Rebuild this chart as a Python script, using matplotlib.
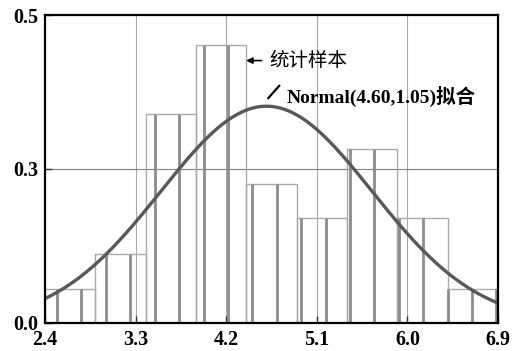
import numpy as np
import matplotlib
matplotlib.use('Agg')
import matplotlib.pyplot as plt

# histogram bins and density heights
BIN_EDGES = [2.4, 2.9, 3.4, 3.9, 4.4, 4.9, 5.4, 5.9, 6.4, 6.9]
DENSITY = [0.060, 0.121, 0.366, 0.488, 0.244, 0.183, 0.305, 0.183, 0.060]

# fitted normal
MU = 4.60
SIGMA = 1.05

X_TICKS = [2.4, 3.3, 4.2, 5.1, 6.0, 6.9]
Y_TICKS = [0.0, 0.27, 0.54]
Y_TICK_LABELS = ['0.0', '0.3', '0.5']

FONT = ['Liberation Serif', 'Noto Sans CJK SC']


def normal_pdf(x, mu, sigma):
    return np.exp(-0.5 * ((x - mu) / sigma) ** 2) / (sigma * np.sqrt(2 * np.pi))


def main():
    fig = plt.figure(figsize=(5.16, 3.51), dpi=100)
    ax = fig.add_axes([0.0872, 0.0806, 0.8779, 0.8766])

    lefts = np.array(BIN_EDGES[:-1])
    widths = np.diff(BIN_EDGES)
    heights = np.array(DENSITY)

    # bar outlines
    ax.bar(lefts, heights, width=widths, align='edge', fill=False,
           edgecolor='#aaaaaa', linewidth=1.0, zorder=2)

    # vertical hatch lines inside bars
    hatch_x = np.arange(2.52, 6.9, 0.2425)
    idx = np.clip(np.searchsorted(BIN_EDGES, hatch_x, side='right') - 1, 0, len(heights) - 1)
    ax.vlines(hatch_x, 0, heights[idx], colors='#8c8c8c', linewidth=2.0, zorder=3)

    # grid lines
    for xt in X_TICKS[1:-1]:
        ax.axvline(xt, color='#a8a8a8', linewidth=0.8, zorder=1)
    ax.axhline(Y_TICKS[1], color='#808080', linewidth=0.8, zorder=1)

    # fitted curve
    xs = np.linspace(BIN_EDGES[0], BIN_EDGES[-1], 300)
    ax.plot(xs, normal_pdf(xs, MU, SIGMA), color='#585858', linewidth=2.4,
            zorder=4, solid_capstyle='butt')

    ax.set_xlim(BIN_EDGES[0], BIN_EDGES[-1])
    ax.set_ylim(Y_TICKS[0], Y_TICKS[-1])
    ax.set_xticks(X_TICKS)
    ax.set_xticklabels(['%.1f' % t for t in X_TICKS])
    ax.set_yticks(Y_TICKS)
    ax.set_yticklabels(Y_TICK_LABELS)
    ax.tick_params(direction='in', length=5, width=1.0, color='#333333')
    ax.tick_params(axis='x', pad=5)
    ax.tick_params(axis='y', pad=5)
    for lab in ax.get_xticklabels() + ax.get_yticklabels():
        lab.set_family(FONT)
        lab.set_fontsize(14.5)
        lab.set_fontweight('bold')
    for sp in ax.spines.values():
        sp.set_linewidth(1.6)
        sp.set_color('black')
        sp.set_zorder(5)

    # legend-like labels
    ax.annotate('', xy=(0.444, 0.852), xytext=(0.478, 0.852), xycoords='axes fraction',
                arrowprops=dict(arrowstyle='-|>', color='black', lw=1.2,
                                mutation_scale=9, shrinkA=0, shrinkB=0))
    ax.text(0.496, 0.852, '统计样本', transform=ax.transAxes, family=FONT,
            fontsize=14, va='center', ha='left')
    ax.plot([0.493, 0.517], [0.730, 0.770], transform=ax.transAxes,
            color='black', linewidth=1.6, zorder=6)
    ax.text(0.533, 0.735, 'Normal(4.60,1.05)拟合', transform=ax.transAxes,
            family=FONT, fontsize=14, fontweight='bold', va='center', ha='left')

    fig.savefig('out.png', dpi=100)


if __name__ == "__main__":
    main()
